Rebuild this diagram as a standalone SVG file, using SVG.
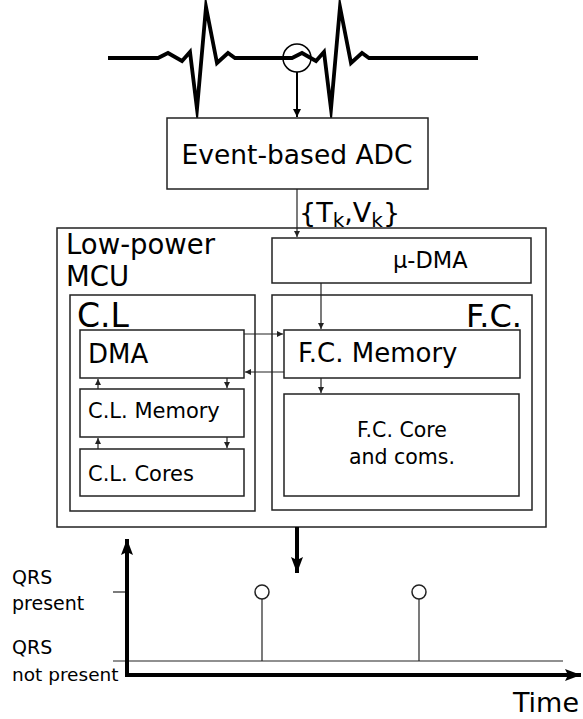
<svg xmlns="http://www.w3.org/2000/svg" width="583" height="719" viewBox="0 0 583 719">
  <style>
    .box { fill: #fff; stroke: #222; stroke-width: 1.5; }
    .frame { fill: none; stroke: #222; stroke-width: 1.5; }
    .t { font-family: "DejaVu Sans", "Liberation Sans", sans-serif; fill: #000; }
    .thin { stroke: #222; stroke-width: 1.2; fill: none; }
    .thick { stroke: #000; stroke-width: 4; fill: none; }
  </style>
  <defs>
    <marker id="ah" markerUnits="userSpaceOnUse" markerWidth="6" markerHeight="6" refX="6" refY="3" orient="auto">
      <path d="M0,0 L6,3 L0,6 z" fill="#222"/>
    </marker>
    <marker id="ahm" markerUnits="userSpaceOnUse" markerWidth="8" markerHeight="8" refX="8" refY="4" orient="auto">
      <path d="M0,0 L8,4 L0,8 z" fill="#000"/>
    </marker>
    <marker id="ahb" markerUnits="userSpaceOnUse" markerWidth="16" markerHeight="12" refX="16" refY="6" orient="auto">
      <path d="M0,0 L16,6 L0,12 L3,6 z" fill="#000"/>
    </marker>
  </defs>

  <!-- ECG signal -->
  <g id="ecg">
    <path d="M108,58 L158,58 L168,53 L182,61 L190,52 L197,109 L206,7 L217,63 L228,53 L235,58 L292,58 L302,53 L316,61 L324,52 L331,109 L340,7 L351,63 L362,53 L369,58 L478,58" fill="none" stroke="#000" stroke-width="3.8" stroke-linejoin="miter" stroke-miterlimit="10"/>
    <circle cx="297" cy="58" r="14" fill="none" stroke="#000" stroke-width="1.5"/>
  </g>

  <g id="adc">
    <rect class="box" x="167" y="118" width="261" height="71"/>
    <text class="t" x="297" y="164" font-size="26.5" text-anchor="middle">Event-based ADC</text>
  </g>

  <g id="mcu">
    <rect class="frame" x="57" y="228" width="489" height="299"/>
    <text class="t" x="66" y="254" font-size="27.5">Low-power</text>
    <text class="t" x="66" y="286" font-size="27.5">MCU</text>
  </g>

  <g id="udma">
    <rect class="box" x="272" y="238" width="259" height="45"/>
    <text class="t" x="393" y="268" font-size="22.5">μ-DMA</text>
  </g>

  <g id="cl">
    <rect class="frame" x="70" y="295" width="185" height="216"/>
    <text class="t" x="77" y="327" font-size="33">C.L</text>
  </g>

  <g id="fc">
    <rect class="frame" x="272" y="295" width="260" height="215"/>
    <text class="t" x="522" y="327" font-size="32" text-anchor="end">F.C.</text>
  </g>

  <g id="dma">
    <rect class="box" x="80" y="330" width="164" height="48"/>
    <text class="t" x="88" y="363" font-size="26">DMA</text>
  </g>

  <g id="clmem">
    <rect class="box" x="80" y="389" width="164" height="48"/>
    <text class="t" x="88" y="418" font-size="21">C.L. Memory</text>
  </g>

  <g id="clcores">
    <rect class="box" x="80" y="449" width="164" height="47"/>
    <text class="t" x="88" y="481" font-size="21">C.L. Cores</text>
  </g>

  <g id="fcmem">
    <rect class="box" x="284" y="330" width="236" height="48"/>
    <text class="t" x="298" y="362" font-size="26">F.C. Memory</text>
  </g>

  <g id="fccore">
    <rect class="box" x="284" y="394" width="235" height="102"/>
    <text class="t" x="402" y="437" font-size="20.5" text-anchor="middle">F.C. Core</text>
    <text class="t" x="402" y="464" font-size="20.5" text-anchor="middle">and coms.</text>
  </g>

  <g id="connectors">
    <line x1="297" y1="72" x2="297" y2="117" stroke="#000" stroke-width="2" marker-end="url(#ahm)"/>
    <line class="thin" x1="297" y1="189" x2="297" y2="237" marker-end="url(#ah)"/>
    <text class="t" x="299" y="222" font-size="27">{T<tspan font-size="20" dy="5">k</tspan><tspan dy="-5">,V</tspan><tspan font-size="20" dy="5">k</tspan><tspan dy="-5">}</tspan></text>
    <line class="thin" x1="321" y1="283" x2="321" y2="329" marker-end="url(#ah)"/>
    <line class="thin" x1="321" y1="378" x2="321" y2="393" marker-end="url(#ah)"/>
    <line class="thin" x1="244" y1="334" x2="283" y2="334" marker-end="url(#ah)"/>
    <line class="thin" x1="284" y1="372" x2="245" y2="372" marker-end="url(#ah)"/>
    <line class="thin" x1="98" y1="389" x2="98" y2="379" marker-end="url(#ah)"/>
    <line class="thin" x1="227" y1="378" x2="227" y2="388" marker-end="url(#ah)"/>
    <line class="thin" x1="98" y1="449" x2="98" y2="438" marker-end="url(#ah)"/>
    <line class="thin" x1="227" y1="437" x2="227" y2="448" marker-end="url(#ah)"/>
    <line x1="297" y1="527" x2="297" y2="573" stroke="#000" stroke-width="4" marker-end="url(#ahb)"/>
  </g>

  <g id="chart">
    <line class="thin" x1="113" y1="661" x2="563" y2="661" stroke-width="1.5"/>
    <line class="thin" x1="113" y1="592" x2="127" y2="592" stroke-width="1.5"/>
    <line class="thin" x1="262" y1="661" x2="262" y2="599" stroke-width="1.5"/>
    <circle cx="262" cy="592" r="7" fill="none" stroke="#222" stroke-width="1.5"/>
    <line class="thin" x1="419" y1="661" x2="419" y2="599" stroke-width="1.5"/>
    <circle cx="419" cy="592" r="7" fill="none" stroke="#222" stroke-width="1.5"/>
    <path class="thick" d="M127,675 L127,539" marker-end="url(#ahb)"/>
    <path class="thick" d="M125,675 L581,675" marker-end="url(#ahb)"/>
    <text class="t" x="12" y="584" font-size="19">QRS</text>
    <text class="t" x="12" y="610" font-size="19">present</text>
    <text class="t" x="12" y="654" font-size="19">QRS</text>
    <text class="t" x="12" y="681" font-size="18.5">not present</text>
    <text class="t" x="579" y="712" font-size="27" text-anchor="end">Time</text>
  </g>
</svg>
